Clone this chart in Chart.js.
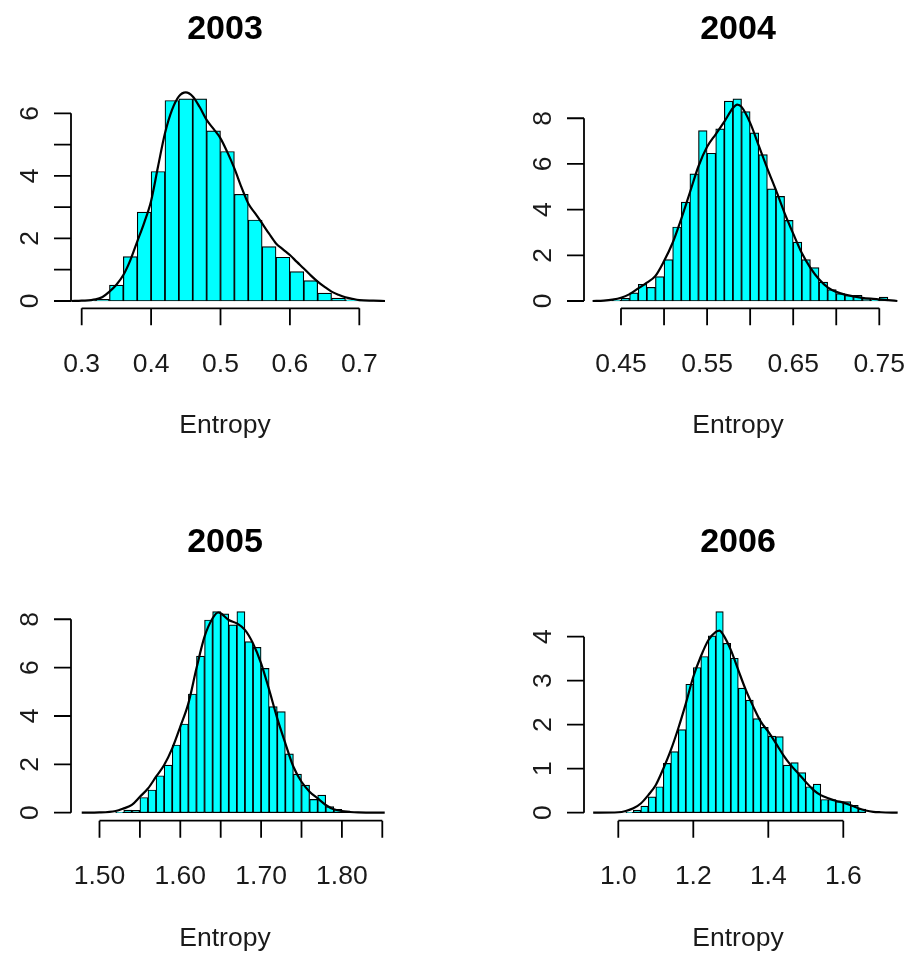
<!DOCTYPE html>
<html>
<head>
<meta charset="utf-8">
<title>Entropy 2003-2006</title>
<script src="https://cdn.jsdelivr.net/npm/chart.js@4.4.1/dist/chart.umd.min.js"></script>
<style>
  body { margin: 0; background: #fff; }
  #wrap { position: relative; width: 909px; height: 961px; overflow: hidden; }
  canvas { position: absolute; }
</style>
</head>
<body>
<div id="wrap">
  <canvas id="c2003" width="454" height="480" style="left:0;top:0"></canvas>
  <canvas id="c2004" width="454" height="480" style="left:455px;top:0"></canvas>
  <canvas id="c2005" width="454" height="480" style="left:0;top:481px"></canvas>
  <canvas id="c2006" width="454" height="480" style="left:455px;top:481px"></canvas>
</div>
<script>
// ---- 2003 ----
const bins2003 = [0.31, 0.33, 0.35, 0.37, 0.39, 0.41, 0.43, 0.45, 0.47, 0.49, 0.51, 0.53, 0.55, 0.57, 0.59, 0.61, 0.63, 0.65, 0.67, 0.69, 0.71];
const hist2003 = [0.01, 0.05, 0.51, 1.42, 2.84, 4.14, 6.41, 6.46, 6.46, 5.44, 4.78, 3.41, 2.59, 1.74, 1.40, 0.94, 0.65, 0.25, 0.09, 0.04, 0.01];
const curveX2003 = [0.285, 0.30, 0.32, 0.33, 0.34, 0.35, 0.36, 0.37, 0.38, 0.39, 0.40, 0.41, 0.42, 0.43, 0.44, 0.45, 0.46, 0.47, 0.48, 0.49, 0.50, 0.51, 0.52, 0.53, 0.54, 0.55, 0.56, 0.57, 0.58, 0.59, 0.60, 0.61, 0.62, 0.63, 0.64, 0.65, 0.66, 0.67, 0.68, 0.69, 0.70, 0.72, 0.737];
const curveY2003 = [0, 0.01, 0.05, 0.13, 0.30, 0.52, 0.83, 1.30, 1.90, 2.50, 3.20, 4.30, 5.36, 6.10, 6.54, 6.67, 6.54, 6.20, 5.79, 5.50, 5.20, 4.75, 4.24, 3.65, 3.12, 2.80, 2.48, 2.15, 1.84, 1.65, 1.47, 1.25, 1.04, 0.82, 0.62, 0.45, 0.30, 0.20, 0.12, 0.07, 0.03, 0.01, 0];
const xTicks2003 = [0.3, 0.4, 0.5, 0.6, 0.7];
const xLabels2003 = ['0.3', '0.4', '0.5', '0.6', '0.7'];
const yTicks2003 = [0, 1, 2, 3, 4, 5, 6];
const yLabels2003 = ['0', '2', '4', '6'];

// ---- 2004 ----
const bins2004 = [0.425, 0.435, 0.445, 0.455, 0.465, 0.475, 0.485, 0.495, 0.505, 0.515, 0.525, 0.535, 0.545, 0.555, 0.565, 0.575, 0.585, 0.595, 0.605, 0.615, 0.625, 0.635, 0.645, 0.655, 0.665, 0.675, 0.685, 0.695, 0.705, 0.715, 0.725, 0.735, 0.745, 0.755];
const hist2004 = [0.01, 0.02, 0.04, 0.12, 0.36, 0.73, 0.60, 1.07, 1.81, 3.24, 4.33, 5.57, 7.46, 6.47, 7.54, 8.75, 8.85, 8.29, 7.36, 6.41, 4.91, 4.58, 3.53, 2.58, 1.81, 1.46, 0.83, 0.50, 0.32, 0.25, 0.25, 0.10, 0.03, 0.17];
const curveX2004 = [0.417, 0.43, 0.44, 0.45, 0.46, 0.47, 0.48, 0.49, 0.50, 0.51, 0.52, 0.53, 0.54, 0.55, 0.56, 0.57, 0.58, 0.585, 0.59, 0.60, 0.61, 0.62, 0.63, 0.64, 0.65, 0.66, 0.67, 0.68, 0.69, 0.70, 0.71, 0.72, 0.73, 0.74, 0.75, 0.76, 0.771];
const curveY2004 = [0, 0.02, 0.06, 0.14, 0.30, 0.55, 0.80, 1.10, 1.75, 2.55, 3.60, 4.75, 5.90, 6.75, 7.30, 7.85, 8.45, 8.60, 8.50, 7.80, 6.80, 5.80, 4.85, 3.85, 2.95, 2.10, 1.45, 0.95, 0.60, 0.40, 0.28, 0.20, 0.14, 0.10, 0.07, 0.04, 0];
const xTicks2004 = [0.45, 0.50, 0.55, 0.60, 0.65, 0.70, 0.75];
const xLabels2004 = ['0.45', '0.55', '0.65', '0.75'];
const yTicks2004 = [0, 2, 4, 6, 8];
const yLabels2004 = ['0', '2', '4', '6', '8'];

// ---- 2005 ----
const bins2005 = [1.525, 1.535, 1.545, 1.555, 1.565, 1.575, 1.585, 1.595, 1.605, 1.615, 1.625, 1.635, 1.645, 1.655, 1.665, 1.675, 1.685, 1.695, 1.705, 1.715, 1.725, 1.735, 1.745, 1.755, 1.765, 1.775, 1.785, 1.795, 1.805];
const hist2005 = [0.02, 0.11, 0.10, 0.63, 0.94, 1.53, 1.97, 2.80, 3.67, 4.91, 6.48, 7.97, 8.32, 8.22, 7.77, 8.32, 7.08, 6.84, 5.97, 4.39, 4.18, 2.43, 1.60, 1.14, 0.55, 0.73, 0.25, 0.14, 0.08];
const curveX2005 = [1.478, 1.50, 1.52, 1.53, 1.54, 1.55, 1.56, 1.57, 1.58, 1.59, 1.60, 1.61, 1.62, 1.63, 1.64, 1.647, 1.65, 1.66, 1.67, 1.68, 1.69, 1.70, 1.71, 1.72, 1.73, 1.74, 1.75, 1.76, 1.77, 1.78, 1.79, 1.80, 1.81, 1.82, 1.853];
const curveY2005 = [0, 0.01, 0.07, 0.18, 0.32, 0.66, 1.00, 1.49, 1.97, 2.66, 3.56, 4.52, 5.97, 7.28, 8.04, 8.28, 8.25, 7.97, 7.83, 7.56, 7.00, 6.18, 5.08, 3.90, 2.87, 1.90, 1.28, 0.87, 0.59, 0.32, 0.14, 0.07, 0.03, 0.01, 0];
const xTicks2005 = [1.50, 1.55, 1.60, 1.65, 1.70, 1.75, 1.80, 1.85];
const xLabels2005 = ['1.50', '1.60', '1.70', '1.80'];
const yTicks2005 = [0, 2, 4, 6, 8];
const yLabels2005 = ['0', '2', '4', '6', '8'];

// ---- 2006 ----
const bins2006 = [1.03, 1.05, 1.07, 1.09, 1.11, 1.13, 1.15, 1.17, 1.19, 1.21, 1.23, 1.25, 1.27, 1.29, 1.31, 1.33, 1.35, 1.37, 1.39, 1.41, 1.43, 1.45, 1.47, 1.49, 1.51, 1.53, 1.55, 1.57, 1.59, 1.61, 1.63, 1.65];
const hist2006 = [0.01, 0.06, 0.15, 0.36, 0.59, 1.12, 1.39, 1.89, 2.92, 3.30, 3.55, 4.02, 4.57, 3.85, 3.51, 2.83, 2.56, 2.14, 1.94, 1.74, 1.73, 1.08, 1.14, 0.91, 0.59, 0.65, 0.30, 0.30, 0.25, 0.25, 0.17, 0.08];
const curveX2006 = [0.933, 1.00, 1.02, 1.04, 1.06, 1.08, 1.10, 1.12, 1.14, 1.16, 1.18, 1.20, 1.22, 1.24, 1.26, 1.27, 1.28, 1.30, 1.32, 1.34, 1.36, 1.38, 1.40, 1.42, 1.44, 1.46, 1.48, 1.50, 1.52, 1.54, 1.56, 1.58, 1.60, 1.62, 1.64, 1.66, 1.68, 1.70, 1.745];
const curveY2006 = [0, 0.01, 0.04, 0.10, 0.21, 0.40, 0.63, 1.00, 1.42, 1.92, 2.48, 3.09, 3.55, 3.92, 4.11, 4.14, 4.04, 3.70, 3.24, 2.79, 2.41, 2.07, 1.84, 1.58, 1.31, 1.08, 0.89, 0.70, 0.52, 0.40, 0.33, 0.27, 0.23, 0.17, 0.10, 0.05, 0.02, 0.01, 0];
const xTicks2006 = [1.0, 1.2, 1.4, 1.6];
const xLabels2006 = ['1.0', '1.2', '1.4', '1.6'];
const yTicks2006 = [0, 1, 2, 3, 4];
const yLabels2006 = ['0', '1', '2', '3', '4'];

const FONT = '"Liberation Sans", Arial, sans-serif';
const TICK = 17;

// R-style axes: lines only over the tick range, outward ticks, rotated y labels
const rAxes = {
  id: 'rAxes',
  afterDraw(chart, args, o) {
    const ctx = chart.ctx, xs = chart.scales.x, ys = chart.scales.y, a = chart.chartArea;
    const xt = xs.ticks.map(t => t.value), yt = ys.ticks.map(t => t.value);
    ctx.save();
    ctx.strokeStyle = '#000';
    ctx.lineWidth = 1.8;
    ctx.beginPath();
    ctx.moveTo(a.left, ys.getPixelForValue(yt[0]));
    ctx.lineTo(a.left, ys.getPixelForValue(yt[yt.length - 1]));
    yt.forEach(v => {
      const p = ys.getPixelForValue(v);
      ctx.moveTo(a.left - TICK, p); ctx.lineTo(a.left, p);
    });
    ctx.moveTo(xs.getPixelForValue(xt[0]), a.bottom);
    ctx.lineTo(xs.getPixelForValue(xt[xt.length - 1]), a.bottom);
    xt.forEach(v => {
      const p = xs.getPixelForValue(v);
      ctx.moveTo(p, a.bottom); ctx.lineTo(p, a.bottom + TICK);
    });
    ctx.stroke();

    ctx.fillStyle = '#1a1a1a';
    ctx.font = '26.5px ' + FONT;
    ctx.textAlign = 'center';
    ctx.textBaseline = 'alphabetic';
    o.xLabels.forEach(s => ctx.fillText(s, xs.getPixelForValue(parseFloat(s)), a.bottom + 63.5));
    o.yLabels.forEach(s => {
      ctx.save();
      ctx.translate(a.left - 33.5, ys.getPixelForValue(parseFloat(s)));
      ctx.rotate(-Math.PI / 2);
      ctx.fillText(s, 0, 0);
      ctx.restore();
    });
    const cx = (a.left + a.right) / 2 - 3;
    ctx.fillText('Entropy', cx, a.bottom + 125);
    ctx.fillStyle = '#000';
    ctx.font = 'bold 34px ' + FONT;
    ctx.fillText(o.title, cx, a.bottom - 269);
    ctx.restore();
  }
};

function makePanel(id, title, origin, box, xr, yr, bins, hist, cx, cy, xTicks, xLabels, yTicks, yLabels) {
  const cv = document.getElementById(id);
  new Chart(cv, {
    type: 'bar',
    data: {
      datasets: [
        {
          type: 'line',
          data: cx.map((x, i) => ({ x: x, y: cy[i] })),
          borderColor: '#000',
          borderWidth: 2.2,
          pointRadius: 0,
          fill: false,
          cubicInterpolationMode: 'monotone'
        },
        {
          type: 'bar',
          data: bins.map((x, i) => ({ x: x, y: hist[i] })),
          backgroundColor: '#00ffff',
          borderColor: '#000',
          borderWidth: 1.2,
          borderSkipped: false,
          barPercentage: 1,
          categoryPercentage: 1
        }
      ]
    },
    options: {
      responsive: false,
      animation: false,
      devicePixelRatio: 1,
      events: [],
      layout: {
        padding: {
          left: box[0] - origin[0],
          top: box[1] - origin[1],
          right: origin[0] + cv.width - box[2],
          bottom: origin[1] + cv.height - box[3]
        }
      },
      scales: {
        x: {
          type: 'linear', display: false, offset: false, grid: { offset: false },
          min: xr[0], max: xr[1],
          afterBuildTicks: s => { s.ticks = xTicks.map(v => ({ value: v })); }
        },
        y: {
          type: 'linear', display: false,
          min: yr[0], max: yr[1],
          afterBuildTicks: s => { s.ticks = yTicks.map(v => ({ value: v })); }
        }
      },
      plugins: {
        legend: { display: false },
        tooltip: { enabled: false },
        rAxes: { title: title, xLabels: xLabels, yLabels: yLabels }
      }
    },
    plugins: [rAxes]
  });
}

makePanel('c2003', '2003', [0, 0], [71, 84, 385, 308.3], [0.2846, 0.7370], [-0.2334, 6.937],
  bins2003, hist2003, curveX2003, curveY2003, xTicks2003, xLabels2003, yTicks2003, yLabels2003);
makePanel('c2004', '2004', [455, 0], [584, 91, 898, 308.3], [0.40703, 0.77172], [-0.3196, 9.194],
  bins2004, hist2004, curveX2004, curveY2004, xTicks2004, xLabels2004, yTicks2004, yLabels2004);
makePanel('c2005', '2005', [0, 481], [71, 602, 385, 820.7], [1.46473, 1.85334], [-0.3308, 8.714],
  bins2005, hist2005, curveX2005, curveY2005, xTicks2005, xLabels2005, yTicks2005, yLabels2005);
makePanel('c2006', '2006', [455, 481], [584, 601, 898, 820.7], [0.90853, 1.74587], [-0.1818, 4.811],
  bins2006, hist2006, curveX2006, curveY2006, xTicks2006, xLabels2006, yTicks2006, yLabels2006);
</script>
</body>
</html>
